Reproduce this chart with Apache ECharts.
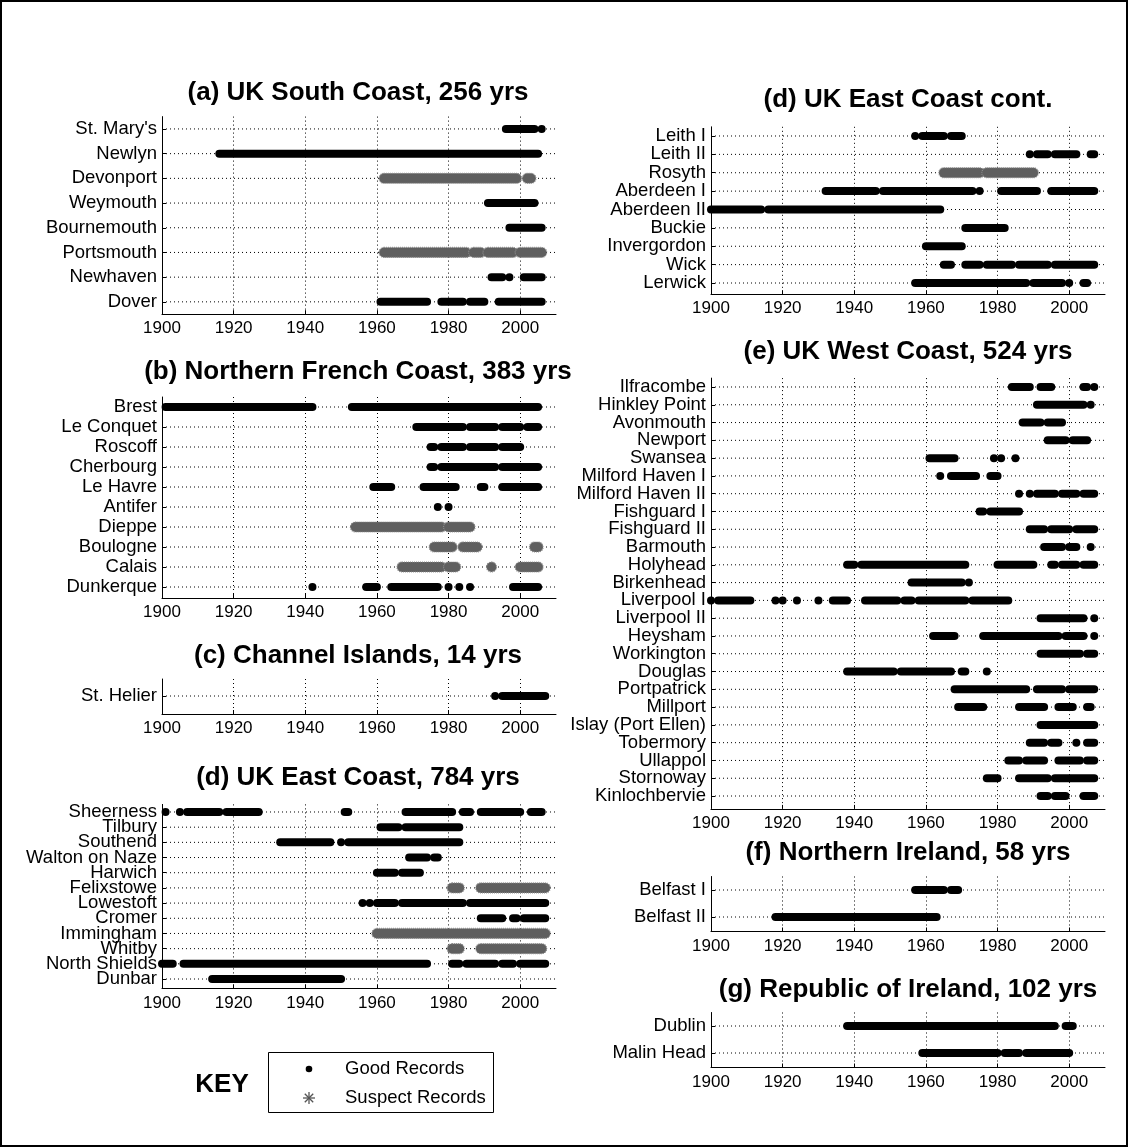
<!DOCTYPE html>
<html><head><meta charset="utf-8">
<script src="https://cdn.jsdelivr.net/npm/echarts@6/dist/echarts.min.js"></script>
<style>html,body{margin:0;padding:0;background:#fff}#c{width:1129px;height:1148px}</style>
</head><body><div id="c"></div>
<script>
// ---------------- DATA ----------------
const xTickYears = [1900, 1920, 1940, 1960, 1980, 2000];

// (a) UK South Coast
const aStations = ["St. Mary's", "Newlyn", "Devonport", "Weymouth", "Bournemouth", "Portsmouth", "Newhaven", "Dover"];
const aRuns = [
  [[1996, 2004], [2006, 2006]],
  [[1916, 2005]],
  [[1962, 1999], [2002, 2003]],
  [[1991, 2004]],
  [[1997, 2006]],
  [[1962, 1985], [1987, 1989], [1991, 1998], [2000, 2006]],
  [[1992, 1995], [1997, 1997], [2001, 2006]],
  [[1961, 1974], [1978, 1984], [1986, 1990], [1994, 2006]]
];
const aSuspect = ["Devonport", "Portsmouth"];

// (b) Northern French Coast
const bStations = ["Brest", "Le Conquet", "Roscoff", "Cherbourg", "Le Havre", "Antifer", "Dieppe", "Boulogne", "Calais", "Dunkerque"];
const bRuns = [
  [[1901, 1942], [1953, 2005]],
  [[1971, 1984], [1986, 1993], [1995, 2000], [2002, 2005]],
  [[1975, 1976], [1978, 1984], [1986, 1993], [1995, 2000]],
  [[1975, 1976], [1978, 1993], [1995, 2005]],
  [[1959, 1964], [1973, 1982], [1989, 1990], [1995, 2005]],
  [[1977, 1977], [1980, 1980]],
  [[1954, 1978], [1980, 1986]],
  [[1976, 1981], [1984, 1988], [2004, 2005]],
  [[1967, 1978], [1980, 1982], [1992, 1992], [2000, 2005]],
  [[1942, 1942], [1957, 1960], [1964, 1977], [1980, 1980], [1983, 1983], [1986, 1986], [1998, 2005]]
];
const bSuspect = ["Dieppe", "Boulogne", "Calais"];

// (c) Channel Islands
const cStations = ["St. Helier"];
const cRuns = [
  [[1993, 1993], [1995, 2007]]
];
const cSuspect = [];

// (d) UK East Coast
const dStations = ["Sheerness", "Tilbury", "Southend", "Walton on Naze", "Harwich", "Felixstowe", "Lowestoft", "Cromer", "Immingham", "Whitby", "North Shields", "Dunbar"];
const dRuns = [
  [[1901, 1901], [1905, 1905], [1907, 1916], [1918, 1927], [1951, 1952], [1968, 1981], [1984, 1986], [1989, 2000], [2003, 2006]],
  [[1961, 1966], [1968, 1983]],
  [[1933, 1947], [1950, 1950], [1952, 1983]],
  [[1969, 1974], [1976, 1977]],
  [[1960, 1965], [1967, 1972]],
  [[1981, 1983], [1989, 2007]],
  [[1956, 1956], [1958, 1958], [1960, 1965], [1967, 1984], [1986, 2007]],
  [[1989, 1995], [1998, 1999], [2001, 2007]],
  [[1960, 2007]],
  [[1981, 1983], [1989, 2006]],
  [[1900, 1903], [1906, 1974], [1981, 1983], [1985, 1993], [1995, 1998], [2000, 2007]],
  [[1914, 1950]]
];
const dSuspect = ["Felixstowe", "Immingham", "Whitby"];

// (d) UK East Coast cont.
const d2Stations = ["Leith I", "Leith II", "Rosyth", "Aberdeen I", "Aberdeen II", "Buckie", "Invergordon", "Wick", "Lerwick"];
const d2Runs = [
  [[1957, 1957], [1959, 1965], [1967, 1970]],
  [[1989, 1989], [1991, 1994], [1996, 2002], [2006, 2007]],
  [[1965, 1975], [1977, 1990]],
  [[1932, 1946], [1948, 1973], [1975, 1975], [1981, 1991], [1995, 2007]],
  [[1900, 1914], [1916, 1964]],
  [[1971, 1982]],
  [[1960, 1970]],
  [[1965, 1967], [1971, 1975], [1977, 1984], [1986, 1994], [1996, 2007]],
  [[1957, 1988], [1990, 1998], [2000, 2000], [2004, 2005]]
];
const d2Suspect = ["Rosyth"];

// (e) UK West Coast
const eStations = ["Ilfracombe", "Hinkley Point", "Avonmouth", "Newport", "Swansea", "Milford Haven I", "Milford Haven II", "Fishguard I", "Fishguard II", "Barmouth", "Holyhead", "Birkenhead", "Liverpool I", "Liverpool II", "Heysham", "Workington", "Douglas", "Portpatrick", "Millport", "Islay (Port Ellen)", "Tobermory", "Ullappol", "Stornoway", "Kinlochbervie"];
const eRuns = [
  [[1984, 1989], [1992, 1995], [2004, 2005], [2007, 2007]],
  [[1991, 2004], [2006, 2006]],
  [[1987, 1992], [1994, 1998]],
  [[1994, 1999], [2001, 2005]],
  [[1961, 1968], [1979, 1979], [1981, 1981], [1985, 1985]],
  [[1964, 1964], [1967, 1974], [1978, 1980]],
  [[1986, 1986], [1989, 1989], [1991, 1996], [1998, 2002], [2004, 2007]],
  [[1975, 1976], [1978, 1986]],
  [[1989, 1993], [1995, 2000], [2002, 2007]],
  [[1993, 1998], [2000, 2002], [2006, 2006]],
  [[1938, 1940], [1942, 1971], [1980, 1990], [1995, 1996], [1998, 2002], [2004, 2007]],
  [[1956, 1970], [1972, 1972]],
  [[1900, 1900], [1902, 1911], [1918, 1918], [1920, 1920], [1924, 1924], [1930, 1930], [1934, 1938], [1943, 1952], [1954, 1956], [1958, 1971], [1973, 1983]],
  [[1992, 2004], [2007, 2007]],
  [[1962, 1968], [1976, 1997], [1999, 2004], [2007, 2007]],
  [[1992, 2003], [2005, 2007]],
  [[1938, 1951], [1953, 1967], [1970, 1971], [1977, 1977]],
  [[1968, 1988], [1991, 1998], [2000, 2007]],
  [[1969, 1976], [1986, 1993], [1997, 2001], [2005, 2006]],
  [[1992, 2007]],
  [[1989, 1993], [1995, 1997], [2002, 2002], [2005, 2007]],
  [[1983, 1986], [1988, 1993], [1997, 2003], [2005, 2007]],
  [[1977, 1980], [1986, 1994], [1996, 2007]],
  [[1992, 1994], [1996, 1999], [2004, 2007]]
];
const eSuspect = [];

// (f) Northern Ireland
const fStations = ["Belfast I", "Belfast II"];
const fRuns = [
  [[1957, 1965], [1967, 1969]],
  [[1918, 1963]]
];
const fSuspect = [];

// (g) Republic of Ireland
const gStations = ["Dublin", "Malin Head"];
const gRuns = [
  [[1938, 1996], [1999, 2001]],
  [[1959, 1980], [1982, 1986], [1988, 2000]]
];
const gSuspect = [];

const keyLabels = ["Good Records", "Suspect Records"];

// ---------------- LAYOUT ----------------
const FONT = "'Liberation Sans', Arial, Helvetica, sans-serif";
const COLS = { L: { left: 162, width: 394, tx: 358 }, R: { left: 711, width: 394, tx: 908 } };
const panels = [
  { title: "(a) UK South Coast, 256 yrs", st: aStations, runs: aRuns, sus: aSuspect, col: "L", top: 116.6, height: 197.6, ty: 93, off: 0 },
  { title: "(b) Northern French Coast, 383 yrs", st: bStations, runs: bRuns, sus: bSuspect, col: "L", top: 397, height: 200, ty: 372, off: 1 },
  { title: "(c) Channel Islands, 14 yrs", st: cStations, runs: cRuns, sus: cSuspect, col: "L", top: 679, height: 34, ty: 656, off: 1 },
  { title: "(d) UK East Coast, 784 yrs", st: dStations, runs: dRuns, sus: dSuspect, col: "L", top: 804.4, height: 182.2, ty: 778, off: 2 },
  { title: "(d) UK East Coast cont.", st: d2Stations, runs: d2Runs, sus: d2Suspect, col: "R", top: 126.8, height: 165.4, ty: 100, off: 2 },
  { title: "(e) UK West Coast, 524 yrs", st: eStations, runs: eRuns, sus: eSuspect, col: "R", top: 378.1, height: 426.8, ty: 352, off: 4 },
  { title: "(f) Northern Ireland, 58 yrs", st: fStations, runs: fRuns, sus: fSuspect, col: "R", top: 876.5, height: 54, ty: 853, off: 1 },
  { title: "(g) Republic of Ireland, 102 yrs", st: gStations, runs: gRuns, sus: gSuspect, col: "R", top: 1012.5, height: 54, ty: 990, off: 1 }
];

const dotted = [1, 3];
const grids = [], xAxes = [], yAxes = [], series = [], graphics = [];

function renderGuide(params, api) {
  const p1 = api.coord([api.value(0), api.value(2)]);
  const p2 = api.coord([api.value(1), api.value(2)]);
  return { type: 'line', shape: { x1: p1[0], y1: p1[1], x2: p2[0], y2: p2[1] },
           style: { stroke: '#000', lineWidth: 1, lineDash: dotted } };
}
function renderGood(params, api) {
  const p1 = api.coord([api.value(0), api.value(2)]);
  const p2 = api.coord([api.value(1), api.value(2)]);
  const r = 4;
  return { type: 'rect', shape: { x: p1[0] - r, y: p1[1] - r, width: p2[0] - p1[0] + 2 * r, height: 2 * r, r: r },
           style: { fill: '#000' } };
}
function renderSuspect(params, api) {
  const p1 = api.coord([api.value(0), api.value(2)]);
  const p2 = api.coord([api.value(1), api.value(2)]);
  const r = 5;
  return { type: 'rect', shape: { x: p1[0] - r, y: p1[1] - r, width: p2[0] - p1[0] + 2 * r, height: 2 * r, r: r },
           style: { fill: '#5f5f5f', stroke: '#8c8c8c', lineWidth: 1.2, lineDash: [1, 1] } };
}

panels.forEach((p, i) => {
  const c = COLS[p.col];
  grids.push({ left: c.left, width: c.width, top: p.top, height: p.height, containLabel: false });
  xAxes.push({
    gridIndex: i, type: 'value', min: 1900, max: 2010, interval: 20, offset: p.off,
    axisLine: { show: true, onZero: false, lineStyle: { color: '#000', width: 1 } },
    axisTick: { show: true, inside: true, length: 4, lineStyle: { color: '#000' } },
    axisLabel: { show: true, color: '#000', fontSize: 17, fontFamily: FONT, margin: 6, showMaxLabel: false,
                 formatter: v => (xTickYears.indexOf(v) >= 0 ? String(v) : '') },
    splitLine: { show: true, showMinLine: false, showMaxLine: false, lineStyle: { color: '#000', width: 1, type: dotted } }
  });
  yAxes.push({
    gridIndex: i, type: 'category', data: p.st, inverse: true,
    axisLine: { show: true, lineStyle: { color: '#000', width: 1 } },
    axisTick: { show: true, inside: true, length: 4, alignWithLabel: true, lineStyle: { color: '#000' } },
    axisLabel: { show: true, color: '#000', fontSize: 18.5, fontFamily: FONT, margin: 5, interval: 0 },
    splitLine: { show: false }
  });
  const guides = p.st.map((s, k) => [1900, 2010, k]);
  const good = [], sus = [];
  p.runs.forEach((list, k) => {
    const isSus = p.sus.indexOf(p.st[k]) >= 0;
    list.forEach(r => (isSus ? sus : good).push([r[0], r[1], k]));
  });
  series.push({ type: 'custom', xAxisIndex: i, yAxisIndex: i, data: guides, renderItem: renderGuide,
                encode: { x: [0, 1], y: 2 }, silent: true, z: 1, clip: false });
  series.push({ type: 'custom', name: keyLabels[0], xAxisIndex: i, yAxisIndex: i, data: good, renderItem: renderGood,
                encode: { x: [0, 1], y: 2 }, silent: true, z: 3, clip: false });
  if (sus.length) series.push({ type: 'custom', name: keyLabels[1], xAxisIndex: i, yAxisIndex: i, data: sus,
                renderItem: renderSuspect, encode: { x: [0, 1], y: 2 }, silent: true, z: 3, clip: false });
  graphics.push({ type: 'text', x: c.tx, y: p.ty,
    style: { text: p.title, font: "bold 26px " + FONT, fill: '#000', textAlign: 'center', textVerticalAlign: 'middle' } });
});

// frame
graphics.push({ type: 'rect', shape: { x: 1, y: 1, width: 1126, height: 1145 }, style: { fill: 'none', stroke: '#000', lineWidth: 2 }, z: 10 });
// key
graphics.push({ type: 'text', x: 222, y: 1085, style: { text: 'KEY', font: "bold 26px " + FONT, fill: '#000', textAlign: 'center', textVerticalAlign: 'middle' } });
graphics.push({ type: 'rect', shape: { x: 268.5, y: 1052.5, width: 225, height: 60 }, style: { fill: '#fff', stroke: '#000', lineWidth: 1 } });
graphics.push({ type: 'circle', shape: { cx: 309, cy: 1069, r: 3.3 }, style: { fill: '#000' } });
const ax = 309, ay = 1098, al = 6;
[[0, -al, 0, al], [-al, 0, al, 0], [-al * 0.7, -al * 0.7, al * 0.7, al * 0.7], [-al * 0.7, al * 0.7, al * 0.7, -al * 0.7]].forEach(s => {
  graphics.push({ type: 'line', shape: { x1: ax + s[0], y1: ay + s[1], x2: ax + s[2], y2: ay + s[3] }, style: { stroke: '#555', lineWidth: 1.3 } });
});
graphics.push({ type: 'text', x: 345, y: 1069, style: { text: keyLabels[0], font: "18.5px " + FONT, fill: '#000', textVerticalAlign: 'middle' } });
graphics.push({ type: 'text', x: 345, y: 1098, style: { text: keyLabels[1], font: "18.5px " + FONT, fill: '#000', textVerticalAlign: 'middle' } });

const chart = echarts.init(document.getElementById('c'), null, { renderer: 'canvas' });
chart.setOption({
  backgroundColor: '#fff',
  animation: false,
  grid: grids, xAxis: xAxes, yAxis: yAxes, series: series,
  graphic: { elements: graphics }
});
</script></body></html>
